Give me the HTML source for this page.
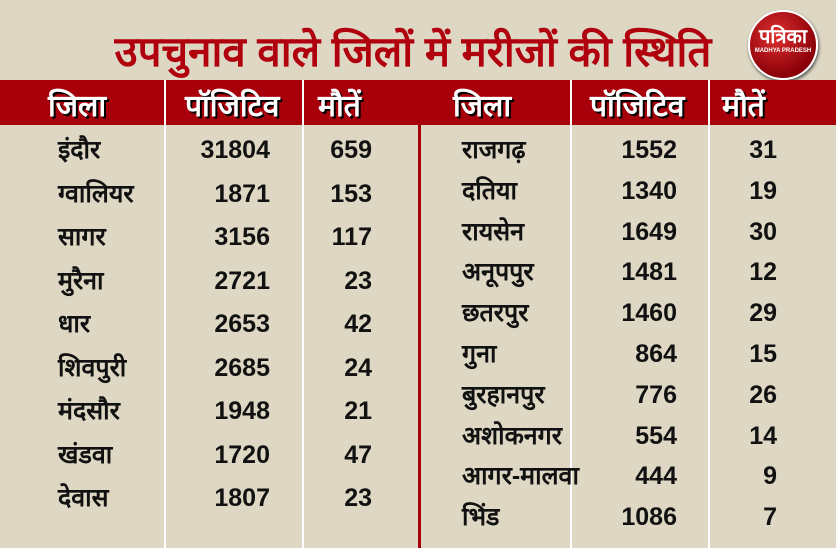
<!DOCTYPE html>
<html><head><meta charset="utf-8">
<style>
body{margin:0;}
#root{position:relative;width:836px;height:548px;background:#ddd7c3;overflow:hidden;font-family:"Liberation Sans Narrow","Liberation Sans","Noto Sans CJK SC",sans-serif;}
.abs{position:absolute;}
#title{left:0;width:836px;top:22px;text-align:center;font-size:42px;font-weight:bold;color:#b0000e;transform:translateX(-5px);}
#hdr{left:0;top:80px;width:836px;height:45px;background:#a8000a;}
.vl{position:absolute;width:2px;background:#fff;top:80px;height:468px;}
.h{position:absolute;top:84px;color:#fff;font-size:30px;font-weight:bold;text-shadow:2px 2px 0 #000;}
.c{position:absolute;font-size:25px;font-weight:bold;color:#111;line-height:30px;}
#logo{left:748px;top:10px;width:66px;height:66px;border-radius:50%;background:radial-gradient(circle at 40% 35%,#e03030,#8a0008 70%);border:2px solid #fff;color:#fff;text-align:center;box-shadow:1px 2px 3px #555;}
</style></head>
<body>
<div id="root">
<div id="title" class="abs">उपचुनाव वाले जिलों में मरीजों की स्थिति</div>
<div id="logo" class="abs"><div style="font-size:20px;font-weight:bold;margin-top:14px;line-height:22px">पत्रिका</div><div style="font-size:6px;font-weight:bold;white-space:nowrap">MADHYA PRADESH</div></div>
<div id="hdr" class="abs"></div>
<div class="vl" style="left:164px"></div>
<div class="vl" style="left:302px"></div>
<div class="vl" style="left:570px"></div>
<div class="vl" style="left:708px"></div>
<div class="abs" style="left:418px;top:125px;width:3px;height:423px;background:#a8000a"></div>
<div class="h" style="left:48px">जिला</div>
<div class="h" style="left:185px">पॉजिटिव</div>
<div class="h" style="left:318px">मौतें</div>
<div class="h" style="left:453px">जिला</div>
<div class="h" style="left:590px">पॉजिटिव</div>
<div class="h" style="left:722px">मौतें</div>
</div>
<script>
const leftNames=["इंदौर","ग्वालियर","सागर","मुरैना","धार","शिवपुरी","मंदसौर","खंडवा","देवास"];
const leftPos=[31804,1871,3156,2721,2653,2685,1948,1720,1807];
const leftDeaths=[659,153,117,23,42,24,21,47,23];
const rightNames=["राजगढ़","दतिया","रायसेन","अनूपपुर","छतरपुर","गुना","बुरहानपुर","अशोकनगर","आगर-मालवा","भिंड"];
const rightPos=[1552,1340,1649,1481,1460,864,776,554,444,1086];
const rightDeaths=[31,19,30,12,29,15,26,14,9,7];
const root=document.getElementById('root');
function cell(txt,x,y,align,name){
  const d=document.createElement('div');
  d.className='c';
  
  
  d.textContent=txt;
  d.style.top=(y-15)+'px';
  if(align==='left'){d.style.left=x+'px';}
  else{d.style.left=(x-120)+'px';d.style.width='120px';d.style.textAlign='right';}
  root.appendChild(d);
}
leftNames.forEach((n,i)=>{
  const y=150+i*43.5;
  cell(n,58,y,'left','district-name');
  cell(String(leftPos[i]),270,y,'right','positive-count');
  cell(String(leftDeaths[i]),372,y,'right','death-count');
});
rightNames.forEach((n,i)=>{
  const y=150+i*40.8;
  cell(n,462,y,'left','district-name');
  cell(String(rightPos[i]),677,y,'right','positive-count');
  cell(String(rightDeaths[i]),777,y,'right','death-count');
});
</script>
</body></html>
